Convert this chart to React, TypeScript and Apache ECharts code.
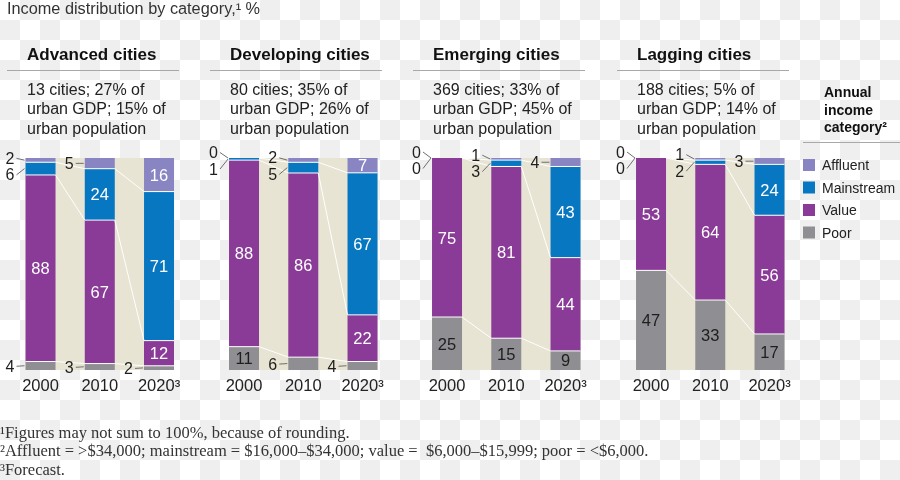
import React, { useEffect, useRef } from 'react';
import * as echarts from 'echarts';

// ---------- data ----------
const YEARS = ['2000', '2010', '2020³'];
const SEGMENTS = ['Poor', 'Value', 'Mainstream', 'Affluent'];
const LEGEND_ORDER = ['Affluent', 'Mainstream', 'Value', 'Poor'];

const advancedPoor = [4, 3, 2];
const advancedValue = [88, 67, 12];
const advancedMainstream = [6, 24, 71];
const advancedAffluent = [2, 5, 16];

const developingPoor = [11, 6, 4];
const developingValue = [88, 86, 22];
const developingMainstream = [1, 5, 67];
const developingAffluent = [0, 2, 7];

const emergingPoor = [25, 15, 9];
const emergingValue = [75, 81, 44];
const emergingMainstream = [0, 3, 43];
const emergingAffluent = [0, 1, 4];

const laggingPoor = [47, 33, 17];
const laggingValue = [53, 64, 56];
const laggingMainstream = [0, 2, 24];
const laggingAffluent = [0, 1, 3];

const PANEL_TITLES = ['Advanced cities', 'Developing cities', 'Emerging cities', 'Lagging cities'];
const PANEL_NOTES = [
  ['13 cities; 27% of', 'urban GDP; 15% of', 'urban population'],
  ['80 cities; 35% of', 'urban GDP; 26% of', 'urban population'],
  ['369 cities; 33% of', 'urban GDP; 45% of', 'urban population'],
  ['188 cities; 5% of', 'urban GDP; 14% of', 'urban population'],
];
const CHART_TITLE = 'Income distribution by category,¹ %';
const LEGEND_TITLE = ['Annual', 'income', 'category²'];
const FOOTNOTES = [
  '¹Figures may not sum to 100%, because of rounding.',
  '²Affluent = >$34,000; mainstream = $16,000–$34,000; value =  $6,000–$15,999; poor = <$6,000.',
  '³Forecast.',
];

const PANELS = [
  [advancedPoor, advancedValue, advancedMainstream, advancedAffluent],
  [developingPoor, developingValue, developingMainstream, developingAffluent],
  [emergingPoor, emergingValue, emergingMainstream, emergingAffluent],
  [laggingPoor, laggingValue, laggingMainstream, laggingAffluent],
];

// ---------- styles ----------
const COLORS: Record<string, string> = {
  Poor: '#8f8f93',
  Value: '#8a3b97',
  Mainstream: '#0877c1',
  Affluent: '#8985c3',
};
const LABEL_COLORS: Record<string, string> = {
  Poor: '#1e1e1e',
  Value: '#ffffff',
  Mainstream: '#ffffff',
  Affluent: '#ffffff',
};
const SANS = '"Liberation Sans", Arial, Helvetica, sans-serif';
const SERIF = '"Liberation Serif", "Times New Roman", serif';
const BEIGE = '#e7e4d3';
const BAR_W = 30;
const GRID_LEFT = [10.9, 214.4, 417.4, 621.4];
const GRID_W = 177.75;
const GRID_TOP = 158;
const GRID_H = 212;
const TEXT_X = [27, 230, 433, 637];
const INSIDE_MIN = 7;

function totals(p: number[][]) {
  return YEARS.map((_, i) => p.reduce((s, arr) => s + arr[i], 0));
}
function norm(p: number[][]) {
  const t = totals(p);
  return p.map((arr) => arr.map((v, i) => (v / t[i]) * 100));
}
function cumul(n: number[][], i: number) {
  const c = [0];
  for (let k = 0; k < n.length; k++) c.push(c[k] + n[k][i]);
  return c;
}

function textEl(text: string, x: number, y: number, font: string, fill: string, align = 'left') {
  return {
    type: 'text',
    silent: true,
    style: {
      text, x, y, font, fill,
      align, textAlign: align,
      verticalAlign: 'middle', textVerticalAlign: 'middle',
    },
  };
}
function lineEl(x1: number, y1: number, x2: number, y2: number, stroke: string) {
  return { type: 'line', silent: true, shape: { x1, y1, x2, y2 }, style: { stroke, lineWidth: 1 } };
}

export default function App() {
  const ref = useRef<HTMLDivElement>(null);

  useEffect(() => {
    if (!ref.current) return;
    const chart = echarts.init(ref.current, undefined, { renderer: 'svg' });

    const grids: any[] = [];
    const xAxes: any[] = [];
    const yAxes: any[] = [];
    const series: any[] = [];

    PANELS.forEach((raw, g) => {
      const n = norm(raw);
      grids.push({ left: GRID_LEFT[g], top: GRID_TOP, width: GRID_W, height: GRID_H });
      xAxes.push({
        type: 'category',
        gridIndex: g,
        data: YEARS,
        axisLine: { show: false },
        axisTick: { show: false },
        axisLabel: { interval: 0, fontSize: 16.5, color: '#222', fontFamily: SANS, margin: 6 },
      });
      yAxes.push({ type: 'value', gridIndex: g, min: 0, max: 100, show: false });

      // beige background behind bars
      series.push({
        type: 'custom',
        xAxisIndex: g,
        yAxisIndex: g,
        z: 0,
        silent: true,
        data: [[0, 0]],
        renderItem: (params: any, api: any) => {
          const a = api.coord([0, 100]);
          const b = api.coord([2, 0]);
          return {
            type: 'rect',
            shape: { x: a[0] - BAR_W / 2, y: a[1], width: b[0] - a[0] + BAR_W, height: b[1] - a[1] },
            style: { fill: BEIGE },
          };
        },
      });

      SEGMENTS.forEach((name, k) => {
        series.push({
          name,
          type: 'bar',
          stack: 'p' + g,
          xAxisIndex: g,
          yAxisIndex: g,
          barWidth: BAR_W,
          z: 2,
          itemStyle: { color: COLORS[name] },
          label: {
            show: true,
            position: 'inside',
            fontSize: 16.5,
            fontFamily: SANS,
            color: LABEL_COLORS[name],
            formatter: (p: any) => (raw[k][p.dataIndex] >= INSIDE_MIN ? String(raw[k][p.dataIndex]) : ''),
          },
          emphasis: { disabled: true },
          data: n[k],
        });
      });

      // separators, connectors and outside labels
      series.push({
        type: 'custom',
        xAxisIndex: g,
        yAxisIndex: g,
        z: 3,
        silent: true,
        data: YEARS.map((_, i) => [i, 0]),
        renderItem: (params: any, api: any) => {
          const i = params.dataIndex;
          const children: any[] = [];
          const c = cumul(n, i);
          const cx = api.coord([i, 0])[0];
          const left = cx - BAR_W / 2;
          const right = cx + BAR_W / 2;
          const yOf = (v: number) => api.coord([i, v])[1];
          for (let k = 1; k < 4; k++) {
            const v = c[k];
            if (v > 0.01 && v < 99.99) {
              const y = yOf(v);
              children.push({ type: 'line', shape: { x1: left, y1: y, x2: right, y2: y }, style: { stroke: '#ffffff', lineWidth: 1 } });
            }
          }
          if (i < YEARS.length - 1) {
            const c2 = cumul(n, i + 1);
            const nextLeft = api.coord([i + 1, 0])[0] - BAR_W / 2;
            for (let k = 1; k < 4; k++) {
              children.push({
                type: 'line',
                shape: { x1: right, y1: yOf(c[k]), x2: nextLeft, y2: yOf(c2[k]) },
                style: { stroke: '#ffffff', lineWidth: 1 },
              });
            }
          }
          const center = (k: number) => yOf((c[k] + c[k + 1]) / 2);
          const outside = (k: number, ly: number) => {
            children.push({
              type: 'line',
              shape: { x1: left - 9, y1: ly, x2: left - 1, y2: center(k) },
              style: { stroke: '#6e6e6e', lineWidth: 1 },
            });
            children.push({
              type: 'text',
              style: {
                text: String(raw[k][i]),
                x: left - 11,
                y: ly,
                font: '16px ' + SANS,
                lineHeight: 14,
                fill: '#1e1e1e',
                align: 'right',
                verticalAlign: 'middle',
              },
            });
          };
          const topSmall = [2, 3].filter((k) => raw[k][i] < INSIDE_MIN);
          if (topSmall.length === 2) {
            const mid = (center(2) + center(3)) / 2;
            outside(3, mid - 6);
            outside(2, mid + 10.5);
          } else if (topSmall.length === 1) {
            outside(topSmall[0], center(topSmall[0]));
          }
          if (raw[0][i] < INSIDE_MIN) outside(0, center(0) + 0.5);
          return { type: 'group', children };
        },
      });
    });

    const graphics: any[] = [];
    graphics.push(textEl(CHART_TITLE, 7, 8, '16.3px ' + SANS, '#333333'));
    PANEL_TITLES.forEach((t, g) => {
      const x = TEXT_X[g];
      graphics.push(textEl(t, x, 54, 'bold 17px ' + SANS, '#111111'));
      graphics.push(lineEl(x - 20, 70.5, x + 152, 70.5, '#a8a8a8'));
      PANEL_NOTES[g].forEach((line, j) => {
        graphics.push(textEl(line, x, 89.5 + j * 19.3, '16px ' + SANS, '#222222'));
      });
    });
    LEGEND_TITLE.forEach((t, j) => {
      graphics.push(textEl(t, 824, 92 + j * 17.5, 'bold 14px ' + SANS, '#111111'));
    });
    graphics.push(lineEl(803, 142.5, 900, 142.5, '#a8a8a8'));
    FOOTNOTES.forEach((t, j) => {
      graphics.push(textEl(t, 0, 432 + j * 18.5, '16.5px ' + SERIF, '#333333'));
    });

    chart.setOption({
      animation: false,
      backgroundColor: 'transparent',
      grid: grids,
      xAxis: xAxes,
      yAxis: yAxes,
      legend: {
        data: LEGEND_ORDER,
        orient: 'vertical',
        left: 803,
        top: 158,
        padding: 0,
        itemWidth: 12,
        itemHeight: 12,
        itemGap: 8.5,
        icon: 'rect',
        selectedMode: false,
        textStyle: { fontSize: 14, lineHeight: 14, fontFamily: SANS, color: '#222', padding: [0, 0, 0, 2] },
      },
      graphic: graphics,
      series,
    });

    return () => chart.dispose();
  }, []);

  return (
    <div
      style={{
        position: 'fixed',
        left: 0,
        top: 0,
        width: 900,
        height: 480,
        backgroundImage: 'repeating-conic-gradient(#efefef 0% 25%, #ffffff 0% 50%)',
        backgroundSize: '40px 40px',
      }}
    >
      <div ref={ref} style={{ width: 900, height: 480 }} />
    </div>
  );
}
